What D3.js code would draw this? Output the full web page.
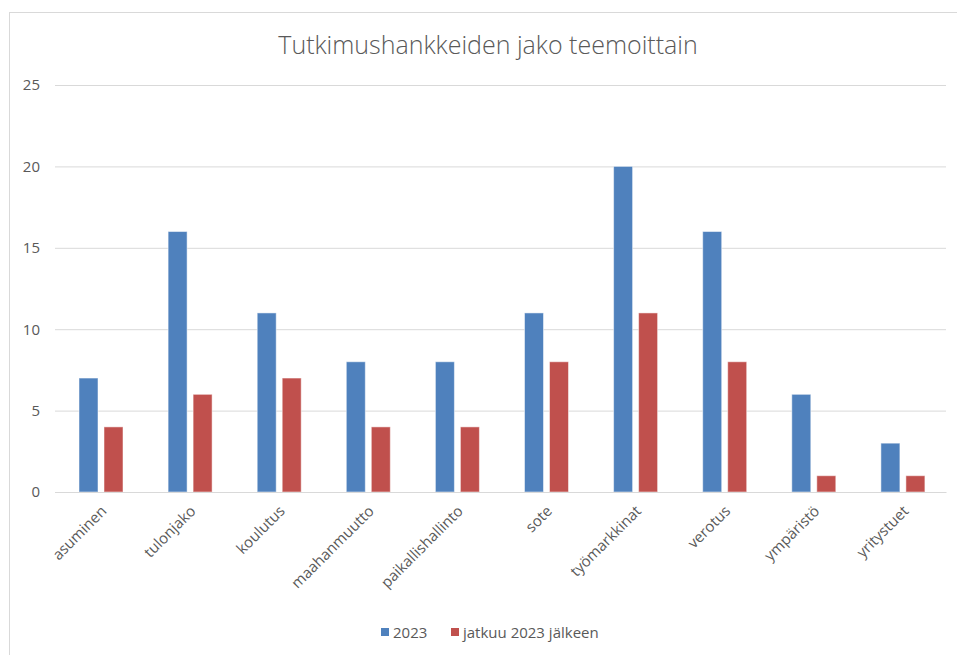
<!DOCTYPE html>
<html>
<head>
<meta charset="utf-8">
<script src="https://cdn.jsdelivr.net/npm/d3@7"></script>
<style>
  body { margin: 0; background: #fff; }
  text { font-family: "Open Sans", "Segoe UI", sans-serif; fill: #595959; }
</style>
</head>
<body>
<div class="chart-container"></div>
<script>
const categories = ["asuminen", "tulonjako", "koulutus", "maahanmuutto", "paikallishallinto",
  "sote", "työmarkkinat", "verotus", "ympäristö", "yritystuet"];
const seriesNames = ["2023", "jatkuu 2023 jälkeen"];
const values2023 = [7, 16, 11, 8, 8, 11, 20, 16, 6, 3];
const valuesAfter = [4, 6, 7, 4, 4, 8, 11, 8, 1, 1];
const yTicks = [0, 5, 10, 15, 20, 25];
const colors = ["#4F81BD", "#C0504D"];

const width = 957, height = 655;
const plot = {left: 55, right: 946, top: 85, bottom: 492};

const svg = d3.select(".chart-container")
  .append("svg")
  .attr("width", width)
  .attr("height", height);

// outer chart frame
svg.append("rect")
  .attr("x", 9.5).attr("y", 12.5)
  .attr("width", 960).attr("height", 660)
  .attr("fill", "none")
  .attr("stroke", "#d9d9d9");

svg.append("text")
  .attr("x", 488).attr("y", 54)
  .attr("text-anchor", "middle")
  .style("font-size", "25px")
  .style("font-weight", 300)
  .text("Tutkimushankkeiden jako teemoittain");

const x = d3.scaleBand()
  .domain(categories)
  .range([plot.left, plot.right]);

const y = d3.scaleLinear()
  .domain([0, 25])
  .range([plot.bottom, plot.top]);

// gridlines + y labels
const yAxis = d3.axisLeft(y)
  .tickValues(yTicks)
  .tickSize(-(plot.right - plot.left))
  .tickPadding(15);

const gy = svg.append("g")
  .attr("transform", "translate(" + plot.left + ",0)")
  .call(yAxis);
gy.select(".domain").remove();
gy.selectAll(".tick line").attr("stroke", "#d9d9d9");
gy.selectAll(".tick text").style("font-size", "15px").attr("fill", "#595959");

// bars: two sub-bands inside each category, shifted slightly right like the original
const series = [values2023, valuesAfter];
const sub = d3.scaleBand()
  .domain([0, 1])
  .range([24, 68])
  .paddingInner(0.24);

series.forEach((vals, si) => {
  svg.append("g")
    .selectAll("rect")
    .data(vals)
    .join("rect")
    .attr("x", (d, i) => x(categories[i]) + sub(si))
    .attr("width", sub.bandwidth())
    .attr("y", d => y(d))
    .attr("height", d => y(0) - y(d))
    .attr("fill", colors[si])
    .attr("stroke", "#ffffff")
    .attr("stroke-opacity", 0.5)
    .attr("stroke-width", 1);
});

// x labels
const xAxis = d3.axisBottom(x).tickSize(0).tickPadding(0);
const gx = svg.append("g")
  .attr("transform", "translate(0," + plot.bottom + ")")
  .call(xAxis);
gx.select(".domain").attr("stroke", "#d9d9d9");
gx.selectAll(".tick text")
  .style("font-size", "15px")
  .attr("fill", "#595959")
  .attr("text-anchor", "end")
  .attr("dy", null)
  .attr("y", 0)
  .attr("transform", "translate(8,20) rotate(-45)");

// legend
const legendX = [381, 451];
const legend = svg.append("g");
seriesNames.forEach((name, i) => {
  legend.append("rect")
    .attr("x", legendX[i]).attr("y", 628)
    .attr("width", 8).attr("height", 8)
    .attr("fill", colors[i]);
  legend.append("text")
    .attr("x", legendX[i] + 12).attr("y", 638)
    .style("font-size", "15px")
    .text(name);
});
</script>
</body>
</html>
